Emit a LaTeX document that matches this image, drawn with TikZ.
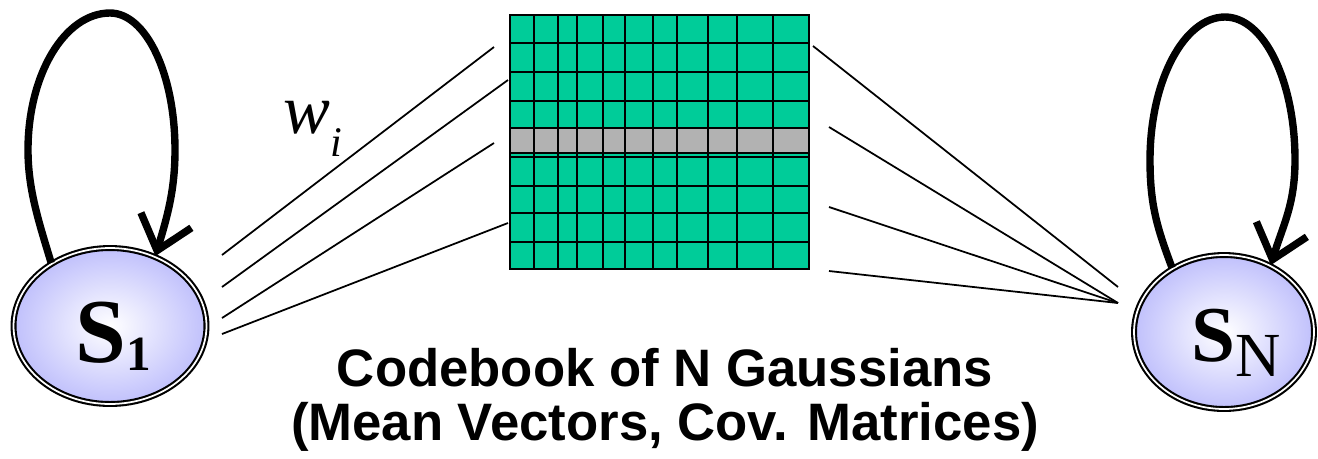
\documentclass[tikz,border=0pt]{standalone}
\usepackage{fontspec}
\setmainfont{Liberation Serif}
\newfontfamily\capfont{Liberation Sans}
\usetikzlibrary{shapes.geometric, arrows.meta}

\definecolor{stateblue}{RGB}{192,192,252}
\definecolor{cbgreen}{RGB}{0,204,153}
\definecolor{cbgray}{RGB}{178,178,178}

\begin{document}
\begin{tikzpicture}[x=0.02cm, y=-0.02cm,
    state/.style={ellipse, draw, line width=1.2pt, double=white, double distance=1pt,
        inner sep=0pt, shading=radial, inner color=white, outer color=stateblue},
    selfloop/.style={line width=4.2pt, -{Straight Barb[length=18pt, width=30pt]}},
    link/.style={line width=1pt},
    gridline/.style={line width=1.3pt}]
    \useasboundingbox (0,0) rectangle (1318,458);

    % codebook: one row per Gaussian, the grey one is picked
    \fill[cbgreen] (510,15) rectangle (809,269);
    \fill[cbgray] (510,128) rectangle (809,153);
    \draw[gridline] (510,43) -- (809,43) (510,72) -- (809,72) (510,101) -- (809,101)
        (510,128) -- (809,128) (510,153) -- (809,153) (510,157) -- (809,157)
        (510,186) -- (809,186) (510,213) -- (809,213) (510,242) -- (809,242);
    \draw[gridline] (534,15) -- (534,269) (558,15) -- (558,269) (577,15) -- (577,269)
        (603,15) -- (603,269) (625,15) -- (625,269) (653,15) -- (653,269)
        (677,15) -- (677,269) (708,15) -- (708,269) (737,15) -- (737,269)
        (773,15) -- (773,269);
    \draw[gridline] (510,15) rectangle (809,269);

    % states
    \node[state, minimum width=3.86cm, minimum height=3.12cm] (s1) at (110,326) {};
    \node[state, minimum width=3.6cm, minimum height=3.08cm] (sN) at (1224,332) {};
    \node (s1lab) at (113,336) {{\fontsize{52}{52}\selectfont\bfseries S}\raisebox{-4.5pt}{\fontsize{28}{28}\selectfont\bfseries 1}};
    \node (sNlab) at (1236,343) {{\fontsize{45}{45}\selectfont\bfseries S}\raisebox{-8.3pt}{\fontsize{35.7}{36}\selectfont N}};

    % self loops
    \coordinate (s1left) at (28,150);
    \coordinate (s1top) at (110,13);
    \coordinate (s1right) at (175,150);
    \draw[selfloop] (s1.133) .. controls +(-12,-40) and +(0,40) .. (s1left)
        .. controls +(0,-76) and +(-45,0) .. (s1top)
        .. controls +(36,0) and +(0,-76) .. (s1right)
        .. controls +(0,40) and +(12,-40) .. (s1.57);
    \coordinate (sNleft) at (1150,160);
    \coordinate (sNtop) at (1225,17);
    \coordinate (sNright) at (1295,160);
    \draw[selfloop] (sN.129) .. controls +(-15,-40) and +(0,45) .. (sNleft)
        .. controls +(0,-79) and +(-41,0) .. (sNtop)
        .. controls +(39,0) and +(0,-79) .. (sNright)
        .. controls +(0,45) and +(12,-40) .. (sN.55);

    % mixture weights on the left
    \coordinate (s1w1) at (222,255);
    \coordinate (s1w2) at (222,287);
    \coordinate (s1w3) at (222,318);
    \coordinate (s1w4) at (222,334);
    \coordinate (cbl1) at (494,47);
    \coordinate (cbl2) at (508,80);
    \coordinate (cbl3) at (494,143);
    \coordinate (cbl4) at (508,223);
    \draw[link] (s1w1) -- (cbl1);
    \draw[link] (s1w2) -- (cbl2);
    \draw[link] (s1w3) -- (cbl3);
    \draw[link] (s1w4) -- (cbl4);
    \node[anchor=base west, inner sep=0pt] (wi) at (283,133) {{\fontsize{40}{40}\selectfont\itshape w}\raisebox{-13.5pt}{\fontsize{24}{24}\selectfont\itshape i}};

    % and on the right
    \coordinate (cbr1) at (813,46);
    \coordinate (cbr2) at (829,127);
    \coordinate (cbr3) at (829,207);
    \coordinate (cbr4) at (829,271);
    \coordinate (sNw1) at (1118,287);
    \coordinate (sNw2) at (1118,303);
    \draw[link] (cbr1) -- (sNw1);
    \draw[link] (cbr2) -- (sNw2);
    \draw[link] (cbr3) -- (sNw2);
    \draw[link] (cbr4) -- (sNw2);

    \node[font=\capfont\bfseries\fontsize{30}{30.6}\selectfont, align=center] (caption) at (665,400)
        {Codebook of N Gaussians\\(Mean Vectors, Cov. Matrices)};
\end{tikzpicture}
\end{document}
